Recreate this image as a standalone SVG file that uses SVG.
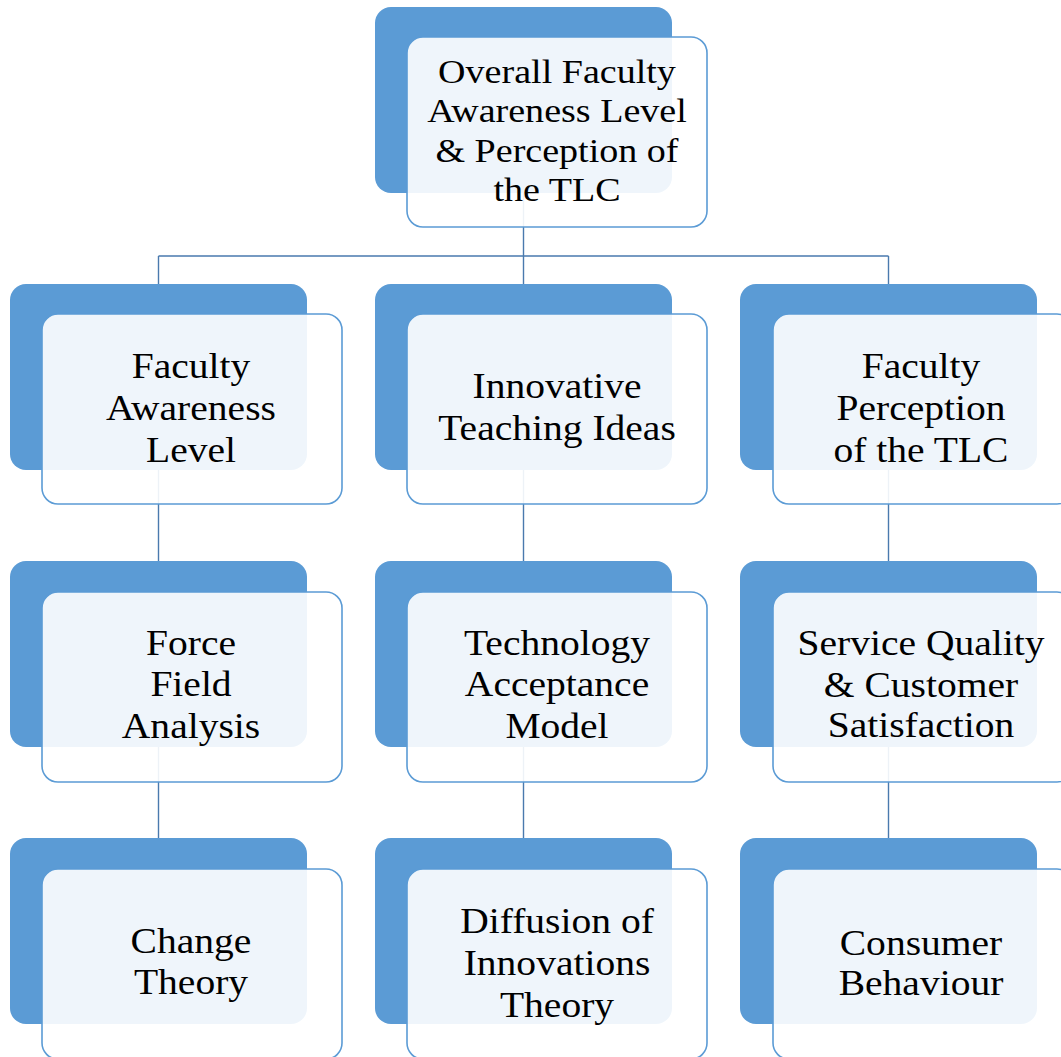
<svg xmlns="http://www.w3.org/2000/svg" width="1061" height="1057" viewBox="0 0 1061 1057">
  <style>
    .back { fill: #5B9BD5; }
    .front { fill: #FFFFFF; fill-opacity: 0.9; stroke: #5B9BD5; stroke-width: 1.6; }
    .wire { fill: none; stroke: #4A7AAE; stroke-width: 1.4; }
    .lbl { font-family: "Liberation Serif", "Times New Roman", serif; font-size: 35px; fill: #000000; text-anchor: middle; }
    .lbl-top { font-size: 34px; }
  </style>

  <rect width="1061" height="1057" fill="#FFFFFF"/>

  <!-- connectors (drawn first so the card faces sit over them) -->
  <g id="connectors">
    <path class="wire" d="M523.5 193 V256 M158.5 256 H888.5 M158.5 256 V284 M523.5 256 V284 M888.5 256 V284"/>
    <path class="wire" d="M158.5 470 V561 M523.5 470 V561 M888.5 470 V561"/>
    <path class="wire" d="M158.5 747 V838 M523.5 747 V838 M888.5 747 V838"/>
  </g>

  <!-- root -->
  <g id="node-overall">
    <rect class="back" x="375" y="7" width="297" height="186" rx="16"/>
    <rect class="front" x="407" y="37" width="300" height="190" rx="16"/>
    <text class="lbl lbl-top" transform="translate(557 0) scale(1.12 1)"><tspan x="0" y="83">Overall Faculty</tspan><tspan x="0" y="122.5">Awareness Level</tspan><tspan x="0" y="162">&amp; Perception of</tspan><tspan x="0" y="201.5">the TLC</tspan></text>
  </g>

  <!-- second row -->
  <g id="node-awareness">
    <rect class="back" x="10" y="284" width="297" height="186" rx="16"/>
    <rect class="front" x="42" y="314" width="300" height="190" rx="16"/>
    <text class="lbl" transform="translate(191 0) scale(1.13 1)"><tspan x="0" y="378">Faculty</tspan><tspan x="0" y="420">Awareness</tspan><tspan x="0" y="462">Level</tspan></text>
  </g>

  <g id="node-innovative">
    <rect class="back" x="375" y="284" width="297" height="186" rx="16"/>
    <rect class="front" x="407" y="314" width="300" height="190" rx="16"/>
    <text class="lbl" transform="translate(557 0) scale(1.13 1)"><tspan x="0" y="398">Innovative</tspan><tspan x="0" y="440">Teaching Ideas</tspan></text>
  </g>

  <g id="node-perception">
    <rect class="back" x="740" y="284" width="297" height="186" rx="16"/>
    <rect class="front" x="773" y="314" width="300" height="190" rx="16"/>
    <text class="lbl" transform="translate(921 0) scale(1.13 1)"><tspan x="0" y="378">Faculty</tspan><tspan x="0" y="420">Perception</tspan><tspan x="0" y="462">of the TLC</tspan></text>
  </g>

  <!-- third row -->
  <g id="node-force-field">
    <rect class="back" x="10" y="561" width="297" height="186" rx="16"/>
    <rect class="front" x="42" y="592" width="300" height="190" rx="16"/>
    <text class="lbl" transform="translate(191 0) scale(1.13 1)"><tspan x="0" y="655">Force</tspan><tspan x="0" y="696">Field</tspan><tspan x="0" y="738">Analysis</tspan></text>
  </g>

  <g id="node-tam">
    <rect class="back" x="375" y="561" width="297" height="186" rx="16"/>
    <rect class="front" x="407" y="592" width="300" height="190" rx="16"/>
    <text class="lbl" transform="translate(557 0) scale(1.13 1)"><tspan x="0" y="655">Technology</tspan><tspan x="0" y="696">Acceptance</tspan><tspan x="0" y="738">Model</tspan></text>
  </g>

  <g id="node-service-quality">
    <rect class="back" x="740" y="561" width="297" height="186" rx="16"/>
    <rect class="front" x="773" y="592" width="300" height="190" rx="16"/>
    <text class="lbl" transform="translate(921 0) scale(1.13 1)"><tspan x="0" y="655">Service Quality</tspan><tspan x="0" y="697">&amp; Customer</tspan><tspan x="0" y="737">Satisfaction</tspan></text>
  </g>

  <!-- fourth row -->
  <g id="node-change-theory">
    <rect class="back" x="10" y="838" width="297" height="186" rx="16"/>
    <rect class="front" x="42" y="869" width="300" height="190" rx="16"/>
    <text class="lbl" transform="translate(191 0) scale(1.13 1)"><tspan x="0" y="953">Change</tspan><tspan x="0" y="994">Theory</tspan></text>
  </g>

  <g id="node-diffusion">
    <rect class="back" x="375" y="838" width="297" height="186" rx="16"/>
    <rect class="front" x="407" y="869" width="300" height="190" rx="16"/>
    <text class="lbl" transform="translate(557 0) scale(1.13 1)"><tspan x="0" y="933">Diffusion of</tspan><tspan x="0" y="975">Innovations</tspan><tspan x="0" y="1017">Theory</tspan></text>
  </g>

  <g id="node-consumer">
    <rect class="back" x="740" y="838" width="297" height="186" rx="16"/>
    <rect class="front" x="773" y="869" width="300" height="190" rx="16"/>
    <text class="lbl" transform="translate(921 0) scale(1.13 1)"><tspan x="0" y="955">Consumer</tspan><tspan x="0" y="995">Behaviour</tspan></text>
  </g>
</svg>
